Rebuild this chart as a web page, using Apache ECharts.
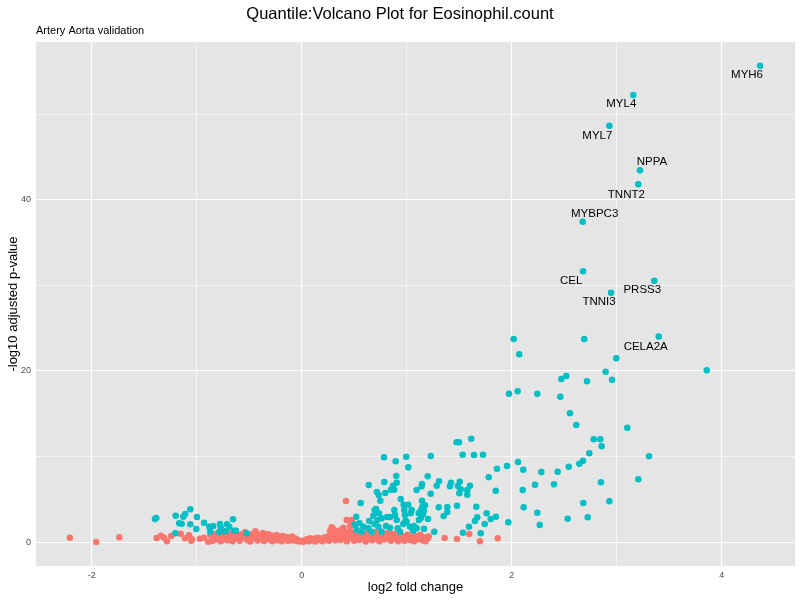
<!DOCTYPE html>
<html>
<head>
<meta charset="utf-8">
<script src="https://cdn.jsdelivr.net/npm/echarts@6/dist/echarts.min.js"></script>
<style>html,body{margin:0;padding:0;background:#fff}#c{width:800px;height:600px}</style>
</head>
<body>
<div id="c"></div>
<script>
// ---- data ----
var xTicks = [-2, 0, 2, 4];
var yTicks = [0, 20, 40];
var xMinorGrid = [-1, 1, 3];
var yMinorGrid = [10, 30, 50];

var labelNames = ['MYH6','MYL4','MYL7','NPPA','TNNT2','MYBPC3','CEL','PRSS3','TNNI3','CELA2A'];
var labelX = [4.365, 3.158, 2.93, 3.222, 3.206, 2.676, 2.68, 3.358, 2.946, 3.40];
var labelY = [55.6, 52.2, 48.6, 43.4, 41.76, 37.4, 31.6, 30.5, 29.1, 24.0];

// significant (teal) points [log2FC, -log10 adj p]
var sigPoints = [
 [2.019,23.70],[2.691,23.70],[2.072,21.91],[2.996,21.45],[2.895,19.88],[3.857,20.05],
 [2.472,19.03],[2.520,19.38],[2.717,18.76],[2.955,18.95],[1.974,17.31],[2.057,17.59],
 [2.244,17.31],[2.463,16.96],[2.555,15.03],[2.615,13.66],[3.101,13.35],[2.781,11.99],
 [2.844,11.99],[2.857,11.17],[2.739,10.36],[3.308,10.01],[1.727,10.19],[1.860,8.56],
 [1.955,8.87],[2.060,9.34],[2.110,8.44],[2.282,8.17],[2.438,8.21],[2.543,8.79],
 [2.644,9.14],[2.679,9.49],[1.781,7.55],[1.848,5.99],[2.105,6.07],[2.222,6.69],
 [2.403,6.74],[2.850,6.97],[3.206,7.32],[2.114,4.05],[2.244,3.42],[2.682,4.55],
 [2.930,4.75],[1.762,3.35],[1.800,2.69],[1.850,2.95],[1.743,2.10],[1.968,2.30],
 [2.267,1.98],[2.533,2.72],[2.724,2.88],[1.705,1.02],
 [0.784,9.89],[0.895,9.42],[0.996,9.96],[1.015,8.72],[0.638,6.65],[0.787,7.01],
 [0.901,7.71],[0.905,6.92],[0.870,6.57],[0.850,6.11],[0.882,6.11],[0.717,5.84],
 [0.733,5.49],[0.796,5.72],[0.943,5.02],[0.749,4.82],[1.095,6.07],[0.562,4.55],
 [0.708,3.85],[0.695,3.74],[0.682,3.07],[0.736,3.35],[0.882,3.74],[0.971,4.35],
 [1.015,4.35],[0.977,3.74],[1.048,3.74],[0.889,3.15],[0.841,2.92],[0.815,2.92],
 [0.644,2.45],[0.720,2.57],[0.762,2.77],[0.905,2.57],[0.984,3.15],[0.990,2.49],
 [1.038,3.35],[1.114,3.35],[0.520,2.95],[0.508,2.07],[0.549,2.18],[0.587,1.79],
 [0.634,1.60],[0.691,2.10],[0.730,1.79],[0.803,1.87],[0.841,1.67],[0.914,1.60],
 [0.968,2.10],[1.000,2.37],[1.031,1.79],[1.070,1.87],[1.095,1.60],[0.524,1.40],
 [0.571,1.20],[0.667,1.20],[0.762,1.20],[0.936,1.20],[1.063,1.32],[1.165,1.55],
 [1.117,2.57],[1.146,4.82],[1.174,4.28],[1.136,3.74],[1.203,2.69],[1.229,5.64],
 [1.200,7.67],[1.229,10.04],[1.263,1.20],[1.146,6.77],
 [1.476,11.64],[1.498,11.64],[1.615,12.06],[1.533,10.19],[1.641,10.16],[1.143,6.50],
 [1.308,7.09],[1.286,6.57],[1.422,6.92],[1.412,6.50],[1.505,7.04],[1.486,6.54],
 [1.514,6.15],[1.603,6.57],[1.577,6.07],[1.501,5.69],[1.577,5.52],[1.149,4.09],
 [1.165,3.65],[1.155,3.23],[1.136,2.80],[1.305,4.05],[1.387,4.09],[1.387,3.50],
 [1.352,3.04],[1.479,4.24],[1.663,4.12],[1.672,2.88],[1.650,2.45],[1.593,1.79],
 [1.536,1.09],
 [-1.397,2.69],[-1.385,2.80],[-1.200,3.07],[-1.128,2.95],[-1.109,3.27],[-1.061,3.82],
 [-0.997,2.92],[-1.166,2.18],[-1.143,2.14],[-1.061,2.07],[-0.930,2.25],[-1.004,1.52],
 [-1.204,1.02],[-0.880,1.79],[-0.842,1.87],[-0.778,2.10],[-0.771,1.72],[-0.711,2.07],
 [-0.690,1.79],[-0.654,2.65],[-0.645,1.32],[-0.626,1.32],[-0.870,1.20],[-0.785,1.17],
 [-0.724,1.25],[-0.524,1.02]
];

// non-significant (red) points
var nsPoints = [
 [-2.207,0.50],[-1.956,0.00],[-1.737,0.55],
 [-1.381,0.47],[-1.340,0.74],[-1.309,0.50],[-1.283,0.08],[-1.242,0.70],[-1.152,0.97],
 [-1.111,0.43],[-1.073,0.78],[-1.045,0.32],[-1.051,0.15],[-0.971,0.39],[-0.930,0.50],
 [-0.870,0.82],[-0.890,0.04],
 [-0.85,0.12],[-0.84,0.62],[-0.82,0.95],[-0.81,0.30],[-0.79,0.75],[-0.77,0.10],[-0.76,1.05],
 [-0.74,0.48],[-0.72,0.85],[-0.71,0.20],[-0.69,0.98],[-0.67,0.55],[-0.66,0.08],[-0.64,1.10],
 [-0.62,0.40],[-0.61,0.78],[-0.59,0.15],[-0.57,0.92],[-0.56,0.52],[-0.54,1.15],[-0.52,0.25],
 [-0.51,0.70],[-0.49,0.05],[-0.47,0.95],[-0.46,0.45],[-0.44,1.25],[-0.42,0.18],[-0.41,0.80],
 [-0.39,0.50],[-0.37,1.05],[-0.36,0.12],[-0.34,0.68],[-0.32,0.90],[-0.31,0.30],
 [-0.29,0.75],[-0.28,0.10],[-0.26,0.55],[-0.24,0.82],[-0.23,0.22],[-0.21,0.62],[-0.19,0.08],
 [-0.18,0.70],[-0.16,0.35],[-0.14,0.58],[-0.13,0.12],[-0.11,0.45],[-0.09,0.65],[-0.08,0.18],
 [-0.06,0.40],
 [-0.04,0.10],[-0.03,0.22],[-0.01,0.05],[0.01,0.15],[0.02,0.04],[0.04,0.20],
 [0.05,0.32],[0.07,0.10],[0.08,0.45],[0.10,0.20],[0.12,0.38],[0.13,0.06],[0.15,0.50],
 [0.17,0.25],[0.18,0.42],[0.20,0.08],[0.22,0.55],[0.23,0.30],
 [0.25,0.65],[0.26,0.15],[0.27,1.30],[0.28,0.45],[0.30,1.55],[0.31,0.80],[0.32,0.20],
 [0.33,1.20],[0.34,0.55],
 [0.36,1.35],[0.37,0.25],[0.38,0.90],[0.40,0.50],[0.41,1.20],[0.43,0.10],[0.44,0.75],
 [0.46,1.30],[0.47,0.40],[0.49,0.95],[0.50,0.15],[0.52,1.05],[0.53,0.60],[0.55,0.25],
 [0.56,0.85],[0.58,1.10],[0.59,0.40],[0.61,0.05],[0.62,0.90],[0.64,0.55],[0.65,1.00],
 [0.67,0.20],[0.68,0.75],[0.70,1.15],[0.71,0.35],[0.73,0.95],[0.74,0.10],[0.76,0.60],
 [0.77,1.05],[0.79,0.30],[0.80,0.85],[0.82,0.50],[0.83,1.10],[0.85,0.15],[0.86,0.70],
 [0.88,0.95],[0.89,0.35],
 [0.91,0.60],[0.92,0.10],[0.94,0.80],[0.95,0.40],[0.97,0.65],[0.98,0.15],[1.00,0.55],
 [1.01,0.85],[1.03,0.25],[1.04,0.62],[1.06,0.45],[1.07,0.08],[1.09,0.70],[1.10,0.30],
 [1.12,0.55],[1.13,0.85],[1.15,0.20],[1.17,0.50],[1.18,0.10],[1.20,0.40],[1.21,0.65],
 [0.422,4.79],[0.429,2.57],[0.476,2.57],[0.396,1.67],[0.486,1.98],[0.286,1.72],[0.46,1.87],
 [1.596,0.93],[1.362,0.47],[1.479,0.35],[1.867,0.43],[1.127,0.55],[1.190,0.55],[1.698,0.08]
];

// ---- presentation ----
var RED = '#F8766D', TEAL = '#00BFC4';
var FONT = 'Liberation Sans, Arial, sans-serif';
var labelOffsets = {
  MYH6:[-13,9], MYL4:[-12,9], MYL7:[-12,10], NPPA:[12,-8], TNNT2:[-12,10],
  MYBPC3:[12,-8], CEL:[-12,9], PRSS3:[-12,9], TNNI3:[-12,9], CELA2A:[-13,10]
};
var labeled = labelNames.map(function(n, i){
  return { name: n, value: [labelX[i], labelY[i]],
    label: { show: true, formatter: n, position: 'inside', offset: labelOffsets[n],
      color: '#000', fontSize: 11.5, fontFamily: FONT } };
});

function gridLines(axis, vals, w){
  return vals.map(function(v){ var o = {}; o[axis] = v; o.lineStyle = {width: w}; return o; });
}
var grid = [].concat(
  gridLines('xAxis', xMinorGrid, 0.6), gridLines('yAxis', yMinorGrid, 0.6),
  gridLines('xAxis', xTicks, 1.2), gridLines('yAxis', yTicks, 1.2)
);

var chart = echarts.init(document.getElementById('c'), null, {renderer: 'canvas'});
chart.setOption({
  animation: false,
  backgroundColor: '#FFFFFF',
  textStyle: { fontFamily: FONT },
  title: [
    { text: 'Quantile:Volcano Plot for Eosinophil.count', left: 'center', top: 1,
      textStyle: { fontSize: 16.5, fontWeight: 'normal', color: '#000', fontFamily: FONT } },
    { text: 'Artery Aorta validation', left: 31, top: 20,
      textStyle: { fontSize: 11, fontWeight: 'normal', color: '#000', fontFamily: FONT } }
  ],
  grid: { left: 36, right: 5, top: 42, bottom: 34, show: true,
    backgroundColor: '#E5E5E5', borderWidth: 0, containLabel: false, outerBoundsMode: 'none' },
  xAxis: {
    type: 'value', min: -2.53, max: 4.698,
    name: 'log2 fold change', nameLocation: 'middle', nameGap: 15, nameMoveOverlap: false,
    nameTextStyle: { fontSize: 13, color: '#000', fontFamily: FONT },
    axisLine: { show: false },
    axisTick: { show: true, length: 3, lineStyle: { color: '#333', width: 1 }, customValues: xTicks },
    axisLabel: { color: '#4D4D4D', fontSize: 9, margin: 5, customValues: xTicks, fontFamily: FONT },
    splitLine: { show: false }
  },
  yAxis: {
    type: 'value', min: -2.8, max: 58.38,
    name: '-log10 adjusted p-value', nameLocation: 'middle', nameGap: 16.5, nameRotate: 90,
    nameMoveOverlap: false,
    nameTextStyle: { fontSize: 13, color: '#000', fontFamily: FONT },
    axisLine: { show: false },
    axisTick: { show: true, length: 3, lineStyle: { color: '#333', width: 1 }, customValues: yTicks },
    axisLabel: { color: '#4D4D4D', fontSize: 9, margin: 5, customValues: yTicks, fontFamily: FONT },
    splitLine: { show: false }
  },
  series: [
    { type: 'scatter', data: [], z: 1, zlevel: 0, silent: true,
      markLine: { silent: true, symbol: ['none','none'], label: { show: false },
        lineStyle: { color: '#FFFFFF', type: 'solid' }, data: grid, animation: false } },
    { type: 'scatter', name: 'ns', data: nsPoints, symbolSize: 6.5, z: 2, zlevel: 1,
      itemStyle: { color: RED, opacity: 1 } },
    { type: 'scatter', name: 'sig', data: sigPoints, symbolSize: 6.5, z: 3, zlevel: 1,
      itemStyle: { color: TEAL, opacity: 1 } },
    { type: 'scatter', name: 'labeled', data: labeled, symbolSize: 6.5, z: 4, zlevel: 1,
      itemStyle: { color: TEAL, opacity: 1 } }
  ]
});
</script>
</body>
</html>
